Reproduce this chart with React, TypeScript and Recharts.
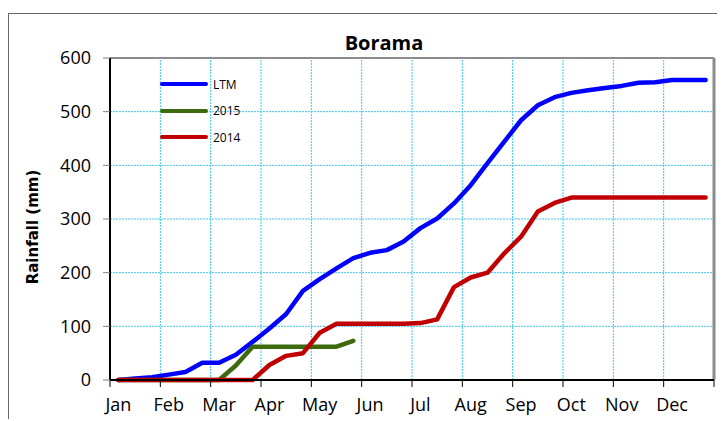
import React from 'react';
import {
  LineChart,
  Line,
  XAxis,
  YAxis,
  CartesianGrid,
  ReferenceLine,
} from 'recharts';

// cumulative rainfall per dekad (3 per month)
const months = ['Jan', 'Feb', 'Mar', 'Apr', 'May', 'Jun', 'Jul', 'Aug', 'Sep', 'Oct', 'Nov', 'Dec'];

const ltm = [
  0, 3, 5, 10, 15, 32, 32, 47, 71, 96, 123, 166,
  188, 208, 227, 237, 242, 258, 283, 301, 329, 363, 404, 444,
  484, 512, 527, 535, 540, 544, 548, 554, 555, 559, 559, 559,
];

const y2015 = [0, 0, 0, 0, 0, 0, 0, 27, 62, 62, 62, 62, 62, 62, 73];

const y2014 = [
  0, 0, 0, 0, 0, 0, 0, 0, 0, 28, 45, 50,
  88, 105, 105, 105, 105, 105, 106, 113, 173, 191, 200, 236,
  267, 314, 330, 340, 340, 340, 340, 340, 340, 340, 340, 340,
];

const yTicks = [0, 100, 200, 300, 400, 500, 600];

const series = [
  { key: 'ltm', name: 'LTM', color: '#0000ff' },
  { key: 'y2015', name: '2015', color: '#3b6b0c' },
  { key: 'y2014', name: '2014', color: '#c00000' },
];

const dekads = months.length * 3;
const data = ltm.map((v, i) => ({
  x: i + 0.5,
  ltm: v,
  y2015: i < y2015.length ? y2015[i] : null,
  y2014: y2014[i],
}));

const monthBounds = months.map((_, m) => m * 3).concat(dekads);
const monthCentres = months.map((_, m) => m * 3 + 0.5);

const FONT = "'Open Sans', sans-serif";
const GRID = '#3cc8f0';

function LegendBox() {
  return (
    <div
      style={{
        position: 'absolute',
        top: 57,
        left: 151,
        fontFamily: FONT,
        fontSize: 12,
        color: '#000',
      }}
    >
      {series.map((s) => (
        <div key={s.key} style={{ display: 'flex', alignItems: 'center', height: 26.5 }}>
          <div style={{ width: 48, height: 4, borderRadius: 2, background: s.color, marginRight: 5 }} />
          <span>{s.name}</span>
        </div>
      ))}
    </div>
  );
}

function YTitle(props: any) {
  const vb = props.viewBox;
  const cx = vb.x + 24;
  const cy = vb.y + vb.height / 2 + 8;
  return (
    <text
      x={cx}
      y={cy}
      transform={`rotate(-90, ${cx}, ${cy})`}
      textAnchor="middle"
      dominantBaseline="central"
      style={{ fontFamily: "'DejaVu Sans', sans-serif", fontWeight: 'bold', fontSize: 15, fill: '#000' }}
    >
      Rainfall (mm)
    </text>
  );
}

const NoLabel = () => <g />;

export default function App() {
  return (
    <div style={{ paddingTop: 5 }}>
      <div
        style={{
          position: 'relative',
          width: 716,
          height: 405,
          borderTop: '1px solid #666',
          borderLeft: '1px solid #666',
        }}
      >
        <div
          style={{
            position: 'absolute',
            top: 15,
            left: 0,
            width: 750,
            textAlign: 'center',
            fontFamily: FONT,
            fontWeight: 'bold',
            fontSize: 20,
            color: '#000',
          }}
        >
          Borama
        </div>
        <LineChart
          width={716}
          height={405}
          data={data}
          margin={{ top: 44, right: 11, bottom: 9, left: 0 }}
        >
          <CartesianGrid xAxisId="grid" vertical={false} stroke={GRID} strokeDasharray="2 1" />
          {monthBounds.slice(1, -1).map((b) => (
            <ReferenceLine key={b} xAxisId="grid" x={b} stroke={GRID} strokeDasharray="2 1" />
          ))}
          <XAxis
            xAxisId="grid"
            dataKey="x"
            type="number"
            domain={[0, dekads]}
            ticks={monthBounds}
            interval={0}
            tick={<NoLabel />}
            height={1}
            tickSize={7}
            axisLine={{ stroke: '#000', strokeWidth: 2 }}
            tickLine={{ stroke: '#000' }}
          />
          <XAxis
            xAxisId="labels"
            dataKey="x"
            type="number"
            domain={[0, dekads]}
            ticks={monthCentres}
            tickFormatter={(v: number) => months[Math.floor(v / 3)]}
            height={29}
            interval={0}
            axisLine={false}
            tickLine={false}
            tickSize={8}
            tickMargin={9}
            tick={{ fontFamily: FONT, fontSize: 18, fill: '#000' }}
          />
          <YAxis
            width={101}
            domain={[0, 600]}
            ticks={yTicks}
            interval={0}
            tickSize={7}
            tickMargin={12}
            axisLine={{ stroke: '#000', strokeWidth: 2 }}
            tickLine={{ stroke: '#808080' }}
            tick={{ fontFamily: FONT, fontSize: 18, fill: '#000' }}
            label={<YTitle />}
          />
          <ReferenceLine xAxisId="grid" y={600} stroke="#8c8c8c" strokeWidth={2} />
          <ReferenceLine xAxisId="grid" x={dekads} stroke="#8c8c8c" strokeWidth={3} />
          {series.map((s) => (
            <Line
              key={s.key}
              xAxisId="grid"
              dataKey={s.key}
              name={s.name}
              type="linear"
              stroke={s.color}
              strokeWidth={4.5}
              strokeLinecap="round"
              strokeLinejoin="round"
              dot={false}
              activeDot={false}
              connectNulls={false}
              isAnimationActive={false}
            />
          ))}
        </LineChart>
        <LegendBox />
      </div>
    </div>
  );
}
